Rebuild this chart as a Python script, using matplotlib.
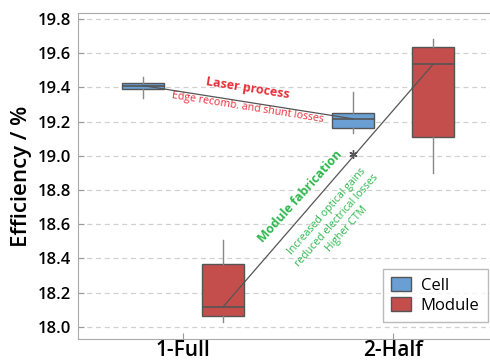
import matplotlib
matplotlib.use("Agg")
import matplotlib.pyplot as plt
from matplotlib.patches import Patch

plt.rcParams['font.family'] = ['Open Sans', 'DejaVu Sans']

categories = ["1-Full", "2-Half"]
# whislo, q1, med, q3, whishi
cell_stats = [[19.337, 19.390, 19.41, 19.428, 19.462],
              [19.132, 19.161, 19.216, 19.249, 19.372]]
module_stats = [[18.027, 18.063, 18.115, 18.366, 18.506],
                [18.901, 19.110, 19.534, 19.639, 19.685]]
cell_outliers = [[], [19.01]]
module_outliers = [[], []]

cell_color = "#6a9fd4"
module_color = "#c44e4c"
edge = "#555555"

fig = plt.figure(figsize=(4.9, 3.64), dpi=100)
ax = fig.add_axes([78/490, 1-339/364, 420/490, (339-13)/364])

def mk(stats, outs):
    return [dict(whislo=s[0], q1=s[1], med=s[2], q3=s[3], whishi=s[4], fliers=o)
            for s, o in zip(stats, outs)]

off = 0.19
w = 0.2
for stats, outs, col, sign in [(cell_stats, cell_outliers, cell_color, -1),
                               (module_stats, module_outliers, module_color, 1)]:
    pos = [i + sign*off for i in range(len(categories))]
    ax.bxp(mk(stats, outs), positions=pos, widths=w, patch_artist=True,
           showcaps=False,
           boxprops=dict(facecolor=col, edgecolor=edge, linewidth=1.0),
           medianprops=dict(color=edge, linewidth=1.2),
           whiskerprops=dict(color="#888888", linewidth=1.0),
           flierprops=dict(marker=(6, 2, 0), markersize=6, markeredgecolor="#555555", linewidth=0),
           zorder=3)
    ax.plot(pos, [s[2] for s in stats], color="#555555", linewidth=0.9, zorder=4)

ax.set_xlim(-0.5, 1.5)
ax.set_ylim(17.928, 19.835)
ax.set_xticks(range(len(categories)))
ax.set_xticklabels(categories, fontsize=15, fontweight='semibold')
yt = [18.0, 18.2, 18.4, 18.6, 18.8, 19.0, 19.2, 19.4, 19.6, 19.8]
ax.set_yticks(yt)
ax.set_yticklabels([f"{v:.1f}" for v in yt], fontsize=12, fontweight='semibold')
ax.tick_params(direction='in', color="#999999", length=4)
ax.tick_params(axis='y', pad=5)
ax.tick_params(axis='x', pad=1)
ax.set_ylabel("Efficiency / %", fontsize=16, fontweight='semibold', labelpad=4)
ax.grid(axis='y', linestyle=(0, (4, 3)), color="#d0d0d0", linewidth=0.9, zorder=0)
for sp in ax.spines.values():
    sp.set_color("#aaaaaa")

ax.text(0.31, 19.397, "Laser process", color="#e8303a", fontsize=9, fontweight='bold',
        rotation=-9, ha='center', va='center')
ax.text(0.31, 19.28, "Edge recomb. and shunt losses", color="#e8303a", fontsize=7.7,
        rotation=-9, ha='center', va='center')
ax.text(0.557, 18.764, "Module fabrication", color="#2db84d", fontsize=9, fontweight='bold',
        rotation=48, ha='center', va='center')
ax.text(0.733, 18.624, "Increased optical gains\nreduced electrical losses\nHigher CTM",
        color="#2db84d", fontsize=7.6, rotation=48.5, ha='center', va='center',
        multialignment='center', linespacing=1.3)

handles = [Patch(facecolor=cell_color, edgecolor=edge, label="Cell"),
           Patch(facecolor=module_color, edgecolor=edge, label="Module")]
leg = ax.legend(handles=handles, loc='lower right', bbox_to_anchor=(0.976, 0.052),
                borderaxespad=0, fontsize=12, fancybox=False, edgecolor="#aaaaaa",
                handlelength=1.2, handleheight=0.9, handletextpad=0.6, labelspacing=0.2,
                borderpad=0.5)
leg.get_frame().set_linewidth(1.0)

fig.savefig("out.png", dpi=100)
